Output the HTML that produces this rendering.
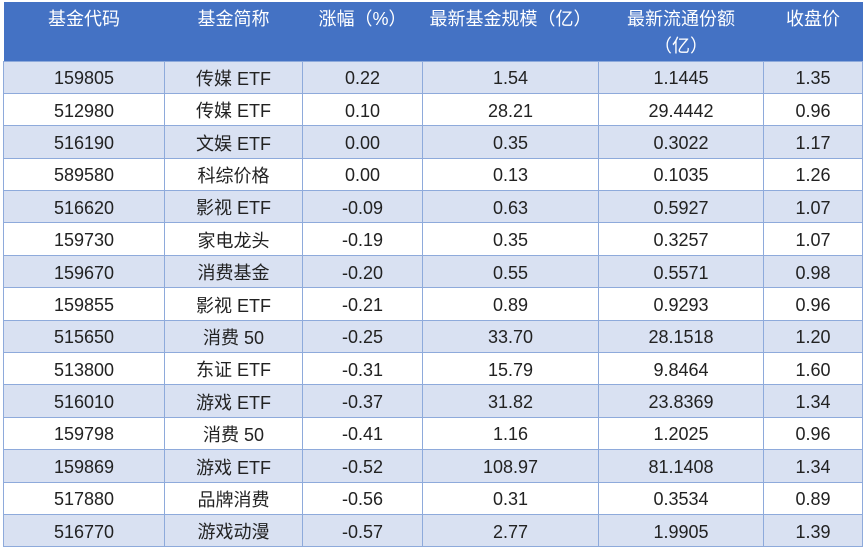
<!DOCTYPE html>
<html><head><meta charset="utf-8"><style>
body{margin:0;width:865px;height:549px;background:#fff;overflow:hidden}
table{position:absolute;left:3px;top:2px;border-collapse:collapse;table-layout:fixed;width:859px;font-family:"Liberation Sans","Noto Sans CJK SC",sans-serif;font-size:18px;color:#222}
th{background:#4472c4;color:#fff;font-weight:normal;height:59px;vertical-align:top;padding:4px 0 0;line-height:27px;box-sizing:border-box}
td{height:32.4px;padding:2px 0 0;text-align:center;border:1px solid #8eaadb;box-sizing:border-box;vertical-align:middle;line-height:20px}
td span{display:inline-block;height:20px;line-height:20px;overflow:visible;vertical-align:middle}
tr:nth-child(even) td{background:#d9e1f2}
tr:nth-child(odd) td{background:#fff}
</style></head><body>
<table>
<colgroup><col style="width:161px"><col style="width:138px"><col style="width:120px"><col style="width:176px"><col style="width:165px"><col style="width:99px"></colgroup>
<tr><th>基金代码</th><th>基金简称</th><th>涨幅（%）</th><th>最新基金规模（亿）</th><th>最新流通份额<br>（亿）</th><th>收盘价</th></tr>
<tr><td>159805</td><td><span>传媒 ETF</span></td><td>0.22</td><td>1.54</td><td>1.1445</td><td>1.35</td></tr>
<tr><td>512980</td><td><span>传媒 ETF</span></td><td>0.10</td><td>28.21</td><td>29.4442</td><td>0.96</td></tr>
<tr><td>516190</td><td><span>文娱 ETF</span></td><td>0.00</td><td>0.35</td><td>0.3022</td><td>1.17</td></tr>
<tr><td>589580</td><td><span>科综价格</span></td><td>0.00</td><td>0.13</td><td>0.1035</td><td>1.26</td></tr>
<tr><td>516620</td><td><span>影视 ETF</span></td><td>-0.09</td><td>0.63</td><td>0.5927</td><td>1.07</td></tr>
<tr><td>159730</td><td><span>家电龙头</span></td><td>-0.19</td><td>0.35</td><td>0.3257</td><td>1.07</td></tr>
<tr><td>159670</td><td><span>消费基金</span></td><td>-0.20</td><td>0.55</td><td>0.5571</td><td>0.98</td></tr>
<tr><td>159855</td><td><span>影视 ETF</span></td><td>-0.21</td><td>0.89</td><td>0.9293</td><td>0.96</td></tr>
<tr><td>515650</td><td><span>消费 50</span></td><td>-0.25</td><td>33.70</td><td>28.1518</td><td>1.20</td></tr>
<tr><td>513800</td><td><span>东证 ETF</span></td><td>-0.31</td><td>15.79</td><td>9.8464</td><td>1.60</td></tr>
<tr><td>516010</td><td><span>游戏 ETF</span></td><td>-0.37</td><td>31.82</td><td>23.8369</td><td>1.34</td></tr>
<tr><td>159798</td><td><span>消费 50</span></td><td>-0.41</td><td>1.16</td><td>1.2025</td><td>0.96</td></tr>
<tr><td>159869</td><td><span>游戏 ETF</span></td><td>-0.52</td><td>108.97</td><td>81.1408</td><td>1.34</td></tr>
<tr><td>517880</td><td><span>品牌消费</span></td><td>-0.56</td><td>0.31</td><td>0.3534</td><td>0.89</td></tr>
<tr><td>516770</td><td><span>游戏动漫</span></td><td>-0.57</td><td>2.77</td><td>1.9905</td><td>1.39</td></tr>
</table>
</body></html>
